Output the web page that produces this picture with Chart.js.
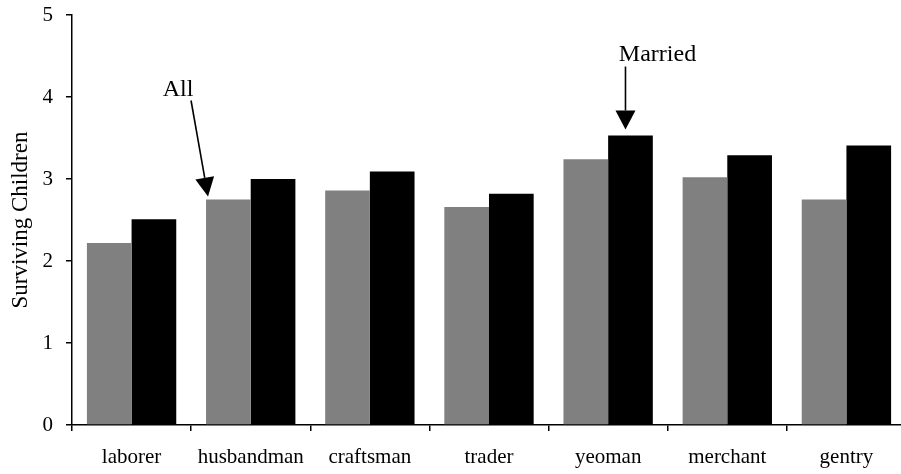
<!DOCTYPE html>
<html>
<head>
<meta charset="utf-8">
<script src="https://cdn.jsdelivr.net/npm/chart.js@4"></script>
<style>
  html, body { margin: 0; padding: 0; background: #fff; overflow: hidden; }
  #wrap { width: 910px; height: 474px; }
</style>
</head>
<body>
<div id="wrap"><canvas id="childrenChart" width="910" height="474"></canvas></div>
<script>
/**
 * Surviving children by occupation (All vs Married)
 */

// data
const occupations = ['laborer', 'husbandman', 'craftsman', 'trader', 'yeoman', 'merchant', 'gentry'];
const allValues = [2.22, 2.75, 2.86, 2.66, 3.24, 3.02, 2.75];
const marriedValues = [2.51, 3.00, 3.09, 2.82, 3.53, 3.29, 3.41];
const yTicks = [0, 1, 2, 3, 4, 5];

const SERIF = '"Liberation Serif", "Times New Roman", serif';

/**
 * draw an arrow with a filled triangular head
 */
function drawArrow(ctx, x1, y1, x2, y2, headLen, headWidth) {
  const ang = Math.atan2(y2 - y1, x2 - x1);
  const bx = x2 - headLen * Math.cos(ang);
  const by = y2 - headLen * Math.sin(ang);
  ctx.beginPath();
  ctx.moveTo(x1, y1);
  ctx.lineTo(bx, by);
  ctx.stroke();
  ctx.beginPath();
  ctx.moveTo(x2, y2);
  ctx.lineTo(bx + headWidth / 2 * Math.sin(ang), by - headWidth / 2 * Math.cos(ang));
  ctx.lineTo(bx - headWidth / 2 * Math.sin(ang), by + headWidth / 2 * Math.cos(ang));
  ctx.closePath();
  ctx.fill();
}

// "All" / "Married" call-outs, anchored on the bars they point at
const calloutPlugin = {
  id: 'callouts',
  afterDatasetsDraw(chart) {
    const ctx = chart.ctx;
    const allBar = chart.getDatasetMeta(0).data[1];
    const marBar = chart.getDatasetMeta(1).data[4];
    ctx.save();
    ctx.strokeStyle = '#000';
    ctx.fillStyle = '#000';
    ctx.lineWidth = 1.6;
    ctx.font = '24px ' + SERIF;
    ctx.textAlign = 'center';
    ctx.textBaseline = 'alphabetic';

    // All
    const ax = allBar.x - allBar.width / 2 + 2;
    const ay = allBar.y - 3;
    drawArrow(ctx, ax - 17, ay - 96, ax, ay, 19, 19);
    ctx.fillText('All', ax - 30, ay - 101);

    // Married
    const mx = marBar.x - 5;
    const my = marBar.y - 6;
    drawArrow(ctx, mx, my - 63, mx, my, 19, 20);
    ctx.fillText('Married', mx + 32, my - 69);
    ctx.restore();
  }
};

document.addEventListener('DOMContentLoaded', function() {
  const ctx = document.getElementById('childrenChart').getContext('2d');
  new Chart(ctx, {
    type: 'bar',
    data: {
      labels: occupations,
      datasets: [{
        label: 'All',
        data: allValues,
        backgroundColor: '#808080',
        borderWidth: 0
      }, {
        label: 'Married',
        data: marriedValues,
        backgroundColor: '#000000',
        borderWidth: 0
      }]
    },
    options: {
      responsive: false,
      animation: false,
      categoryPercentage: 0.75,
      barPercentage: 1.0,
      layout: { padding: { top: 15, right: 4, left: 0, bottom: 0 } },
      plugins: {
        legend: { display: false },
        tooltip: { enabled: false }
      },
      scales: {
        x: {
          offset: true,
          grid: { display: true, drawOnChartArea: false, offset: true, tickLength: 6, color: '#000', lineWidth: 1.5 },
          border: { display: true, color: '#000', width: 1.5 },
          ticks: { color: '#000', font: { family: SERIF, size: 21 }, padding: 14, maxRotation: 0 },
          afterFit: function(scale) {
            scale.height = 49;
            scale.paddingLeft = 0;
            scale.paddingRight = 0;
          }
        },
        y: {
          min: 0,
          max: 5,
          afterBuildTicks: function(scale) { scale.ticks = yTicks.map(v => ({ value: v })); },
          grid: { display: true, drawOnChartArea: false, tickLength: 6, color: '#000', lineWidth: 1.5 },
          border: { display: true, color: '#000', width: 1.5 },
          ticks: { color: '#000', font: { family: SERIF, size: 21 }, padding: 13 },
          title: { display: true, text: 'Surviving Children', color: '#000', font: { family: SERIF, size: 23 }, padding: { top: 7, bottom: 0 } },
          afterFit: function(scale) {
            scale.width = 72;
            scale.paddingTop = 0;
            scale.paddingBottom = 0;
          }
        }
      }
    },
    plugins: [calloutPlugin]
  });
});
</script>
</body>
</html>
